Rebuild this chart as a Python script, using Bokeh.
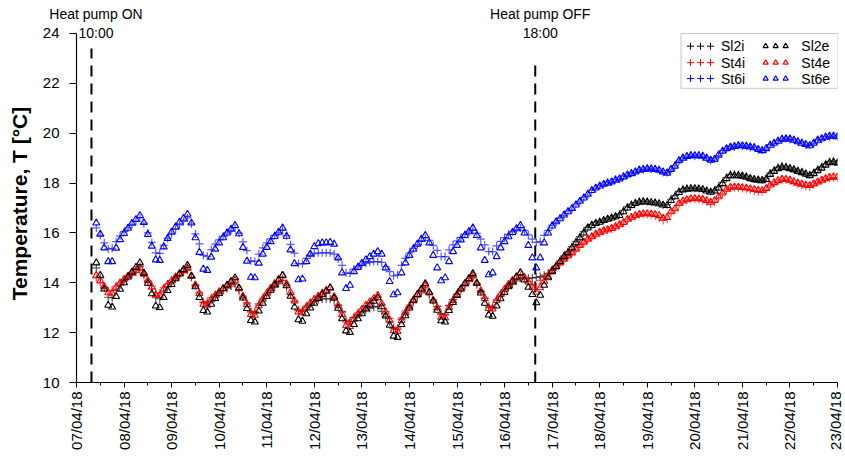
from math import pi
from bokeh.plotting import figure
from bokeh.models import FixedTicker, Range1d, Label, BoxAnnotation, LinearAxis
from bokeh.embed import file_html
from bokeh.resources import INLINE
from bokeh.core.properties import value

# ---------------- data ----------------
date_labels = ["07/04/18", "08/04/18", "09/04/18", "10/04/18", "11/04/18", "12/04/18",
               "13/04/18", "14/04/18", "15/04/18", "16/04/18", "17/04/18", "18/04/18",
               "19/04/18", "20/04/18", "21/04/18", "22/04/18", "23/04/18"]
y_ticks = [10, 12, 14, 16, 18, 20, 22, 24]

# sampling: every 2 h; hours counted from 07/04/18 00:00
step_hours = 2
on_start_hour = 10      # first sample of heat-pump-ON period (07/04 10:00)
off_start_hour = 234    # first sample after heat pump OFF (16/04 18:00)

heat_on_day = 0.315     # dashed line "Heat pump ON"
heat_off_day = 9.645    # dashed line "Heat pump OFF"
event_text_days = [0.41, 9.75]
event_names = ["Heat pump ON", "Heat pump OFF"]
event_times = ["10:00", "18:00"]

# ON period, one row per day block (10:00 .. 08:00 next day)
sl2i_on = [
    [14.6, 14.2, 13.8, 13.42, 13.4, 13.69, 13.9, 14.08, 14.25, 14.39, 14.52, 14.65],
    [14.35, 14.05, 13.75, 13.4, 13.36, 13.63, 13.83, 14.0, 14.16, 14.3, 14.43, 14.55],
    [14.23, 13.91, 13.58, 13.2, 13.15, 13.32, 13.46, 13.58, 13.69, 13.78, 13.87, 13.95],
    [13.68, 13.42, 13.15, 12.83, 12.8, 13.1, 13.32, 13.51, 13.68, 13.83, 13.97, 14.1],
    [13.81, 13.52, 13.23, 12.88, 12.85, 13.02, 13.15, 13.25, 13.32, 13.35, 13.36, 13.35],
    [13.3, 13.1, 12.85, 12.5, 12.45, 12.6, 12.72, 12.82, 12.9, 12.97, 13.02, 13.05],
    [12.85, 12.64, 12.43, 12.16, 12.14, 12.53, 12.79, 13.02, 13.24, 13.42, 13.59, 13.75],
    [13.52, 13.28, 13.05, 12.76, 12.74, 13.09, 13.33, 13.54, 13.74, 13.9, 14.05, 14.2],
    [13.92, 13.65, 13.37, 13.02, 13.0, 13.28, 13.48, 13.65, 13.81, 13.95, 14.08, 14.2],
    [14.2, 14.18, 14.2, 14.22],
]
sl2e_on = [
    [14.8, 14.3, 13.75, 13.1, 13.03, 13.45, 13.74, 14.0, 14.23, 14.43, 14.62, 14.8],
    [14.39, 13.98, 13.56, 13.07, 13.01, 13.41, 13.69, 13.93, 14.16, 14.35, 14.53, 14.7],
    [14.27, 13.84, 13.41, 12.89, 12.83, 13.14, 13.37, 13.57, 13.76, 13.91, 14.06, 14.2],
    [13.79, 13.39, 12.97, 12.49, 12.43, 12.87, 13.18, 13.45, 13.7, 13.91, 14.11, 14.3],
    [13.88, 13.46, 13.03, 12.52, 12.46, 12.76, 12.99, 13.18, 13.37, 13.52, 13.66, 13.8],
    [13.39, 12.98, 12.56, 12.07, 12.01, 12.33, 12.56, 12.76, 12.95, 13.11, 13.26, 13.4],
    [13.04, 12.67, 12.3, 11.86, 11.81, 12.33, 12.68, 12.99, 13.28, 13.53, 13.75, 13.97],
    [13.62, 13.27, 12.9, 12.48, 12.43, 12.89, 13.21, 13.49, 13.75, 13.97, 14.17, 14.37],
    [13.98, 13.59, 13.18, 12.71, 12.66, 13.07, 13.36, 13.61, 13.84, 14.04, 14.22, 14.4],
    [14.11, 13.82, 13.53, 13.2],
]
st4i_on = [
    [14.2, 14.0, 13.82, 13.68, 13.7, 13.87, 14.0, 14.13, 14.24, 14.33, 14.42, 14.5],
    [14.29, 14.08, 13.87, 13.6, 13.58, 13.8, 13.95, 14.08, 14.21, 14.31, 14.41, 14.5],
    [14.21, 13.92, 13.63, 13.26, 13.23, 13.41, 13.54, 13.65, 13.75, 13.84, 13.92, 14.0],
    [13.73, 13.47, 13.2, 12.86, 12.84, 13.16, 13.39, 13.58, 13.77, 13.92, 14.06, 14.2],
    [13.9, 13.6, 13.3, 12.92, 12.89, 13.07, 13.21, 13.33, 13.44, 13.53, 13.62, 13.7],
    [13.4, 13.1, 12.8, 12.42, 12.39, 12.62, 12.79, 12.94, 13.07, 13.19, 13.3, 13.4],
    [13.12, 12.84, 12.57, 12.22, 12.2, 12.59, 12.86, 13.1, 13.32, 13.51, 13.68, 13.85],
    [13.58, 13.32, 13.05, 12.72, 12.7, 13.07, 13.32, 13.55, 13.75, 13.93, 14.09, 14.25],
    [13.97, 13.69, 13.42, 13.07, 13.05, 13.34, 13.55, 13.73, 13.9, 14.04, 14.17, 14.3],
    [14.18, 14.05, 13.92, 13.82],
]
st4e_on = [
    [14.3, 14.08, 13.85, 13.6, 13.58, 13.82, 13.99, 14.14, 14.27, 14.39, 14.5, 14.6],
    [14.34, 14.09, 13.83, 13.52, 13.49, 13.75, 13.93, 14.09, 14.24, 14.37, 14.49, 14.6],
    [14.26, 13.91, 13.57, 13.14, 13.1, 13.32, 13.49, 13.64, 13.77, 13.89, 14.0, 14.1],
    [13.78, 13.46, 13.13, 12.73, 12.7, 13.08, 13.34, 13.57, 13.79, 13.97, 14.14, 14.3],
    [13.96, 13.61, 13.27, 12.83, 12.8, 13.02, 13.19, 13.34, 13.47, 13.59, 13.7, 13.8],
    [13.45, 13.09, 12.73, 12.28, 12.25, 12.54, 12.75, 12.93, 13.1, 13.24, 13.37, 13.5],
    [13.17, 12.83, 12.5, 12.08, 12.05, 12.49, 12.8, 13.06, 13.31, 13.52, 13.71, 13.9],
    [13.6, 13.3, 13.0, 12.62, 12.6, 13.01, 13.29, 13.53, 13.76, 13.95, 14.13, 14.3],
    [13.99, 13.68, 13.37, 12.97, 12.95, 13.29, 13.53, 13.74, 13.94, 14.1, 14.25, 14.4],
    [14.22, 14.03, 13.82, 13.62],
]
st6i_on = [
    [16.2, 15.9, 15.6, 15.35, 15.38, 15.65, 15.88, 16.05, 16.2, 16.34, 16.47, 16.6],
    [16.38, 16.0, 15.62, 15.2, 15.18, 15.5, 15.78, 15.98, 16.15, 16.32, 16.46, 16.6],
    [16.36, 15.96, 15.56, 15.1, 15.06, 15.33, 15.55, 15.72, 15.87, 16.0, 16.1, 16.2],
    [15.99, 15.64, 15.29, 14.88, 14.86, 15.15, 15.4, 15.6, 15.76, 15.9, 16.01, 16.1],
    [15.89, 15.54, 15.19, 14.77, 14.76, 14.98, 15.1, 15.17, 15.2, 15.2, 15.2, 15.2],
    [15.15, 14.95, 14.7, 14.4, 14.38, 14.55, 14.65, 14.72, 14.78, 14.82, 14.85, 14.85],
    [14.82, 14.65, 14.45, 14.28, 14.32, 14.7, 14.98, 15.2, 15.38, 15.53, 15.67, 15.8],
    [15.7, 15.5, 15.3, 15.05, 15.05, 15.32, 15.52, 15.68, 15.82, 15.94, 16.03, 16.1],
    [15.98, 15.75, 15.52, 15.25, 15.25, 15.48, 15.66, 15.81, 15.94, 16.05, 16.13, 16.2],
    [16.1, 15.92, 15.75, 15.62],
]
st6e_on = [
    [16.4, 15.95, 15.4, 14.85, 14.85, 15.39, 15.73, 15.98, 16.19, 16.39, 16.54, 16.7],
    [16.42, 15.94, 15.47, 14.92, 14.9, 15.44, 15.78, 16.03, 16.24, 16.44, 16.59, 16.75],
    [16.4, 15.81, 15.22, 14.55, 14.5, 15.03, 15.35, 15.6, 15.81, 16.0, 16.15, 16.3],
    [15.97, 15.42, 14.87, 14.22, 14.2, 14.79, 15.15, 15.42, 15.65, 15.86, 16.03, 16.2],
    [15.87, 15.32, 14.77, 14.12, 14.15, 14.85, 15.15, 15.45, 15.57, 15.6, 15.6, 15.62],
    [15.55, 15.0, 14.4, 13.77, 13.9, 14.45, 14.62, 14.78, 14.92, 15.05, 15.15, 15.25],
    [15.15, 14.6, 14.05, 13.52, 13.6, 14.4, 14.8, 15.1, 15.35, 15.55, 15.75, 15.9],
    [15.6, 15.1, 14.6, 14.08, 14.2, 14.85, 15.25, 15.5, 15.72, 15.9, 16.05, 16.2],
    [15.9, 15.4, 14.9, 14.32, 14.4, 15.05, 15.4, 15.65, 15.85, 16.02, 16.17, 16.3],
    [16.0, 15.5, 15.0, 14.6],
]

# OFF period (16/04 18:00 .. 23/04 00:00)
sl2i_off = [14.25, 14.3, 14.38, 14.5, 14.68, 14.88, 15.07, 15.25, 15.45, 15.65, 15.85, 16.05,
            16.22, 16.33, 16.42, 16.47, 16.52, 16.58, 16.62, 16.68, 16.75, 16.9, 17.05, 17.15,
            17.22, 17.27, 17.28, 17.26, 17.24, 17.22, 17.18, 17.12, 17.14, 17.35, 17.5, 17.67,
            17.76, 17.8, 17.8, 17.79, 17.78, 17.75, 17.7, 17.66, 17.72, 17.85, 18.03, 18.22,
            18.35, 18.35, 18.33, 18.3, 18.26, 18.2, 18.16, 18.13, 18.12, 18.2, 18.4, 18.52,
            18.63, 18.68, 18.65, 18.6, 18.55, 18.5, 18.45, 18.38, 18.33, 18.42, 18.55, 18.65,
            18.77, 18.86, 18.88, 18.84]
sl2e_off = [13.5, 13.9, 14.2, 14.45, 14.65, 14.85, 15.05, 15.2, 15.4, 15.6, 15.8, 16.0,
            16.2, 16.3, 16.38, 16.43, 16.5, 16.55, 16.6, 16.65, 16.7, 16.85, 17.0, 17.1,
            17.18, 17.23, 17.25, 17.24, 17.22, 17.2, 17.17, 17.12, 17.1, 17.3, 17.45, 17.62,
            17.72, 17.75, 17.77, 17.77, 17.76, 17.74, 17.68, 17.63, 17.68, 17.8, 17.98, 18.18,
            18.3, 18.3, 18.3, 18.28, 18.24, 18.18, 18.14, 18.12, 18.1, 18.15, 18.35, 18.47,
            18.58, 18.63, 18.62, 18.58, 18.53, 18.47, 18.42, 18.36, 18.3, 18.38, 18.5, 18.6,
            18.72, 18.82, 18.84, 18.8]
st4i_off = [14.1, 14.22, 14.35, 14.5, 14.63, 14.78, 14.92, 15.05, 15.18, 15.33, 15.47, 15.6,
            15.72, 15.82, 15.92, 16.0, 16.06, 16.12, 16.16, 16.23, 16.3, 16.4, 16.52, 16.6,
            16.68, 16.73, 16.75, 16.74, 16.72, 16.68, 16.6, 16.5, 16.55, 16.8, 16.95, 17.15,
            17.25, 17.3, 17.35, 17.36, 17.34, 17.3, 17.24, 17.15, 17.25, 17.42, 17.58, 17.72,
            17.8, 17.82, 17.8, 17.78, 17.75, 17.72, 17.68, 17.65, 17.66, 17.75, 17.9, 18.0,
            18.08, 18.13, 18.12, 18.08, 18.02, 17.95, 17.9, 17.86, 17.85, 17.93, 18.02, 18.1,
            18.16, 18.2, 18.22, 18.2]
st4e_off = [13.8, 14.05, 14.25, 14.5, 14.65, 14.8, 14.95, 15.08, 15.2, 15.35, 15.5, 15.63,
            15.75, 15.85, 15.95, 16.02, 16.08, 16.13, 16.18, 16.25, 16.33, 16.42, 16.55, 16.63,
            16.7, 16.75, 16.77, 16.77, 16.76, 16.74, 16.7, 16.6, 16.62, 16.85, 16.97, 17.18,
            17.28, 17.33, 17.37, 17.38, 17.37, 17.35, 17.3, 17.23, 17.3, 17.45, 17.6, 17.75,
            17.83, 17.84, 17.84, 17.82, 17.8, 17.77, 17.74, 17.71, 17.7, 17.78, 17.92, 18.02,
            18.1, 18.16, 18.15, 18.12, 18.06, 18.0, 17.96, 17.92, 17.9, 17.97, 18.05, 18.12,
            18.18, 18.23, 18.25, 18.24]
st6i_off = [15.65, 15.9, 16.1, 16.3, 16.42, 16.6, 16.7, 16.88, 16.95, 17.15, 17.25, 17.43,
            17.52, 17.72, 17.78, 17.9, 17.93, 18.03, 18.04, 18.15, 18.15, 18.28, 18.31, 18.4,
            18.43, 18.54, 18.53, 18.6, 18.55, 18.57, 18.5, 18.42, 18.42, 18.53, 18.7, 18.88,
            19.02, 19.05, 19.12, 19.08, 19.12, 19.05, 19.02, 18.9, 18.97, 19.1, 19.3, 19.36,
            19.46, 19.45, 19.52, 19.48, 19.5, 19.43, 19.44, 19.33, 19.32, 19.36, 19.54, 19.58,
            19.7, 19.74, 19.79, 19.75, 19.74, 19.64, 19.62, 19.53, 19.52, 19.58, 19.74, 19.76,
            19.86, 19.86, 19.9, 19.85]
st6e_off = [15.0, 15.6, 16.0, 16.28, 16.45, 16.57, 16.72, 16.85, 16.98, 17.12, 17.27, 17.4,
            17.55, 17.7, 17.8, 17.88, 17.95, 18.0, 18.05, 18.12, 18.17, 18.25, 18.33, 18.38,
            18.45, 18.52, 18.55, 18.57, 18.57, 18.55, 18.52, 18.45, 18.4, 18.55, 18.68, 18.9,
            19.0, 19.07, 19.1, 19.1, 19.1, 19.08, 19.0, 18.92, 18.95, 19.12, 19.28, 19.38,
            19.44, 19.47, 19.5, 19.5, 19.48, 19.45, 19.42, 19.35, 19.3, 19.38, 19.52, 19.6,
            19.68, 19.76, 19.77, 19.77, 19.72, 19.66, 19.6, 19.55, 19.5, 19.6, 19.72, 19.78,
            19.84, 19.88, 19.88, 19.86]


def build(on_rows, off_vals):
    on = [v for row in on_rows for v in row]
    t_on = [(on_start_hour + step_hours * i) / 24.0 for i in range(len(on))]
    t_off = [(off_start_hour + step_hours * i) / 24.0 for i in range(len(off_vals))]
    return t_on + t_off, on + off_vals


FONT = "Liberation Sans"
BLACK, RED, BLUE = "#000000", "#ff0000", "#0000ff"

# frame: left 76, right 837, top 24, bottom 382 (value 24 sits at y=32)
p = figure(width=843, height=456, output_backend="svg", toolbar_location=None,
           x_range=Range1d(0, 16), y_range=Range1d(10, 24.36),
           min_border_left=76, min_border_right=6, min_border_top=24, min_border_bottom=74)
p.xgrid.visible = False
p.ygrid.visible = False
p.outline_line_color = None
p.background_fill_color = "white"

# axes
p.xaxis.ticker = FixedTicker(ticks=list(range(len(date_labels))),
                             minor_ticks=[i + 0.5 for i in range(len(date_labels) - 1)])
p.xaxis.major_label_overrides = {i: lab for i, lab in enumerate(date_labels)}
p.xaxis.major_label_orientation = pi / 2
p.yaxis.ticker = FixedTicker(ticks=y_ticks, minor_ticks=[])
p.yaxis.bounds = (10, 24)
for ax in (p.xaxis[0], p.yaxis[0]):
    ax.axis_line_color = BLACK
    ax.axis_line_width = 1.2
    ax.major_tick_line_color = BLACK
    ax.minor_tick_line_color = BLACK
    ax.major_tick_in = 0
    ax.minor_tick_in = 0
    ax.major_label_text_font = FONT
    ax.major_label_text_font_size = "15px"
    ax.major_label_text_color = BLACK
p.xaxis.major_tick_out = 5
p.xaxis.minor_tick_out = 3
p.xaxis.major_label_standoff = 4
p.yaxis.major_tick_out = 7
p.yaxis.minor_tick_out = 0
p.yaxis.major_label_standoff = 10
p.yaxis.axis_label = "Temperature, T [°C]"
p.yaxis.axis_label_text_font = FONT
p.yaxis.axis_label_text_font_size = "21px"
p.yaxis.axis_label_text_font_style = "bold"
p.yaxis.axis_label_text_color = BLACK
p.yaxis.axis_label_standoff = 9

# event names as labels of an invisible axis above the frame (not clipped by the frame)
top_axis = LinearAxis(ticker=FixedTicker(ticks=event_text_days, minor_ticks=[]),
                      major_label_overrides={d: n for d, n in zip(event_text_days, event_names)},
                      axis_line_color=None, major_tick_line_color=None, minor_tick_line_color=None,
                      major_tick_in=0, major_tick_out=0, minor_tick_in=0, minor_tick_out=0,
                      major_label_standoff=3, major_label_text_font=FONT,
                      major_label_text_font_size="14px", major_label_text_color=BLACK)
p.add_layout(top_axis, "above")

# heat pump lines
p.segment(x0=[heat_on_day, heat_off_day], y0=[10, 10], x1=[heat_on_day, heat_off_day], y1=[23.4, 23.0],
          line_color=BLACK, line_width=2, line_dash="11 7")

# series
series = [
    (sl2i_on, sl2i_off, BLACK, "cross"),
    (st4i_on, st4i_off, RED, "cross"),
    (st6i_on, st6i_off, BLUE, "cross"),
    (st4e_on, st4e_off, RED, "triangle"),
    (st6e_on, st6e_off, BLUE, "triangle"),
    (sl2e_on, sl2e_off, BLACK, "triangle"),
]
for on_rows, off_vals, col, mk in series:
    xs, ys = build(on_rows, off_vals)
    if mk == "cross":
        p.scatter(xs, ys, marker="cross", size=8, line_color=col, line_alpha=0.65, line_width=1.2)
    else:
        p.scatter(xs, ys, marker="triangle", size=7, fill_color=None, line_color=col, line_width=1.1)

# clock times under the event names
for d, t in zip(event_text_days, event_times):
    p.add_layout(Label(x=d, y=24.02, text=t, text_align="center", text_baseline="middle",
                       text_font=FONT, text_font_size="14px", text_color=BLACK))

# legend (manual, 2 columns x 3 rows)
legend_box = BoxAnnotation(left=12.71, right=16.0, top=24.0, bottom=21.8, fill_color="white",
                           fill_alpha=1.0, line_color="#444444", line_width=1, level="underlay")
p.add_layout(legend_box)
legend_rows_y = [23.49, 22.83, 22.19]
legend_cols = [([12.91, 13.12, 13.33], 13.55, "cross"), ([14.49, 14.70, 14.91], 15.24, "triangle")]
legend_names = [["Sl2i", "St4i", "St6i"], ["Sl2e", "St4e", "St6e"]]
legend_colors = [BLACK, RED, BLUE]
for c, (mx, tx, mk) in enumerate(legend_cols):
    for r, yv in enumerate(legend_rows_y):
        if mk == "cross":
            p.scatter(mx, [yv] * 3, marker="cross", size=7, line_color=legend_colors[r], line_width=1)
        else:
            p.scatter(mx, [yv] * 3, marker="triangle", size=5, fill_color=None,
                      line_color=legend_colors[r], line_width=1.2)
        p.text([tx], [yv], text=[legend_names[c][r]], text_font=value(FONT), text_font_size="14px",
               text_baseline="middle", text_align="left", text_color=BLACK)

open("out.html", "w").write(file_html(p, INLINE))
